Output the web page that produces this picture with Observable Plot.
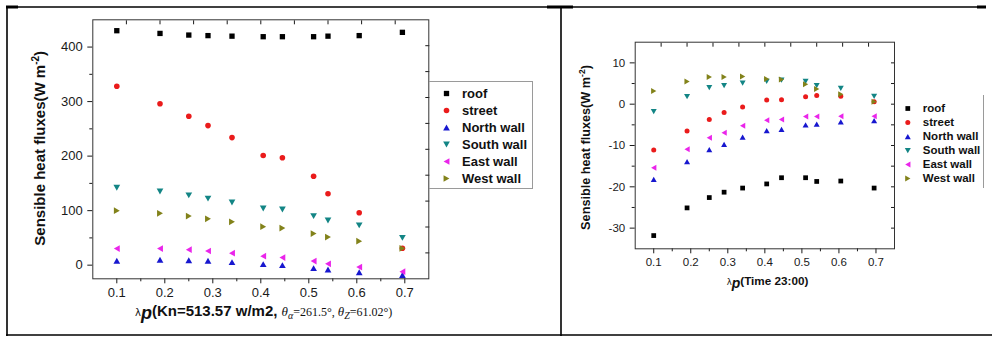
<!DOCTYPE html>
<html><head><meta charset="utf-8">
<script src="https://cdn.jsdelivr.net/npm/d3@7"></script>
<script src="https://cdn.jsdelivr.net/npm/@observablehq/plot@0.6"></script>
<style>
body{margin:0;background:#fff;}
#root{position:relative;width:992px;height:337px;overflow:hidden;background:#fff;font-family:"Liberation Sans",Arial,sans-serif;}
</style></head><body><div id="root"></div>
<script>
// ---------- data ----------
const seriesNames = ["roof", "street", "North wall", "South wall", "East wall", "West wall"];
const seriesColors = ["#000000", "#ea1b1b", "#1717cf", "#138585", "#ea25ea", "#82821a"];
const lambdaP = [0.1, 0.19, 0.25, 0.29, 0.34, 0.405, 0.445, 0.51, 0.54, 0.605, 0.695];

// left panel (Kn=513.57 w/m2)
const roofDay   = [430, 425, 422, 421, 420, 419, 419, 419, 420, 421, 427];
const streetDay = [328, 296, 273, 256, 234, 201, 197, 163, 131, 96, 31];
const northDay  = [8, 10, 9, 8, 5.5, 2, 0, -5.5, -8, -13, -18];
const southDay  = [142, 135, 128, 122, 115, 104, 102, 90, 82, 73, 50];
const eastDay   = [30.5, 30.5, 28.5, 26, 22, 16.5, 14, 7.5, 2.5, -3.5, -12];
const westDay   = [100, 95, 90, 85, 79.5, 70.5, 68, 58, 51.5, 44, 31];

// right panel (Time 23:00)
const roofNight   = [-31.8, -25.1, -22.6, -21.3, -20.3, -19.3, -17.8, -17.8, -18.7, -18.6, -20.3];
const streetNight = [-11.1, -6.5, -3.7, -2.0, -0.7, 1.0, 1.1, 1.8, 2.1, 1.9, 0.6];
const northNight  = [-18.2, -13.9, -11.0, -9.7, -8.0, -6.4, -6.1, -5.0, -4.8, -4.3, -4.0];
const southNight  = [-1.8, 1.8, 4.0, 4.5, 5.1, 5.5, 5.8, 5.5, 4.5, 3.8, 1.9];
const eastNight   = [-15.4, -10.9, -8.1, -6.9, -5.2, -3.9, -3.7, -3.0, -3.0, -2.9, -2.9];
const westNight   = [3.2, 5.5, 6.6, 6.6, 6.7, 6.1, 6.0, 4.8, 3.7, 2.4, 0.6];

// ticks
const xDomain = [0.05, 0.75];
const xTicks = [0.1, 0.2, 0.3, 0.4, 0.5, 0.6, 0.7];
const xMinorTicks = [0.15, 0.25, 0.35, 0.45, 0.55, 0.65];
const xMirrorTicks = [0.12, 0.19, 0.26, 0.33, 0.40, 0.47, 0.54, 0.61, 0.68];

const yDomainDay = [-25, 450];
const yTicksDay = [0, 100, 200, 300, 400];
const yMinorDay = [50, 150, 250, 350];
const yMirrorDay = [22.5, 70, 117.5, 165, 212.5, 260, 307.5, 355, 402.5];

const yDomainNight = [-35, 15];
const yTicksNight = [-30, -20, -10, 0, 10];
const yMinorNight = [-25, -15, -5, 5];
const yMirrorNight = [-30, -25, -20, -15, -10, -5, 0, 5, 10];

// ---------- symbols ----------
const Rr = s => Math.sqrt(s / Math.PI);
const squareSym = {draw(c, s) { const h = Rr(s) * 0.95; c.rect(-h, -h, 2 * h, 2 * h); }};
const circleSym = {draw(c, s) { const r = Rr(s); c.moveTo(r, 0); c.arc(0, 0, r, 0, 2 * Math.PI); }};
const triUp = {draw(c, s) { const r = Rr(s), w = r * 1.2, h = r * 1.05; c.moveTo(0, -h); c.lineTo(w, h); c.lineTo(-w, h); c.closePath(); }};
const triDown = {draw(c, s) { const r = Rr(s), w = r * 1.2, h = r * 1.05; c.moveTo(0, h); c.lineTo(w, -h); c.lineTo(-w, -h); c.closePath(); }};
const triLeft = {draw(c, s) { const r = Rr(s), w = r * 1.2, h = r * 1.05; c.moveTo(-h, 0); c.lineTo(h, -w); c.lineTo(h, w); c.closePath(); }};
const triRight = {draw(c, s) { const r = Rr(s), w = r * 1.2, h = r * 1.05; c.moveTo(h, 0); c.lineTo(-h, -w); c.lineTo(-h, w); c.closePath(); }};
const seriesSymbols = [squareSym, circleSym, triUp, triDown, triLeft, triRight];

function makeRows(values) {
  return seriesNames.flatMap((s, i) => lambdaP.map((x, j) => ({lambda: x, flux: values[i][j], series: s})));
}
const dayRows = makeRows([roofDay, streetDay, northDay, southDay, eastDay, westDay]);
const nightRows = makeRows([roofNight, streetNight, northNight, southNight, eastNight, westNight]);

const FONT = "'Liberation Sans', Arial, sans-serif";

function panel(o) {
  return Plot.plot({
    width: o.width, height: o.height,
    marginLeft: o.ml, marginRight: o.mr, marginTop: o.mt, marginBottom: o.mb,
    style: {fontFamily: FONT, fontSize: o.fontSize + "px", color: "#1a1a1a", background: "transparent", overflow: "visible"},
    x: {domain: xDomain},
    y: {domain: o.yDomain},
    color: {domain: seriesNames, range: seriesColors},
    symbol: {domain: seriesNames, range: seriesSymbols},
    marks: [
      Plot.axisY({ticks: o.yTicks, tickSize: 5, tickPadding: o.yPad, label: null, tickFormat: d => String(d)}),
      Plot.axisY({ticks: o.yMinor, tickSize: 3, label: null, fill: "none"}),
      Plot.axisX({ticks: xTicks, tickSize: 5, tickPadding: o.xPad, label: null, tickFormat: d => d.toFixed(1)}),
      Plot.axisX({ticks: xMinorTicks, tickSize: 3, label: null, fill: "none"}),
      Plot.axisX({anchor: "top", ticks: xMirrorTicks, tickSize: -4, label: null, fill: "none"}),
      Plot.axisY({anchor: "right", ticks: o.yMirror, tickSize: -4, label: null, fill: "none"}),
      Plot.frame({stroke: "#333"}),
      Plot.dot(o.rows, {x: "lambda", y: "flux", fill: "series", symbol: "series", r: o.r})
    ]
  });
}

function legendPlot(o) {
  return Plot.plot({
    width: o.width, height: o.height,
    marginLeft: 0, marginRight: 0, marginTop: o.mt, marginBottom: o.mb,
    style: {fontFamily: FONT, fontSize: o.fontSize + "px", fontWeight: "bold", color: "#111", background: "transparent"},
    y: {type: "point", domain: seriesNames, padding: 0, axis: null},
    color: {domain: seriesNames, range: seriesColors},
    symbol: {domain: seriesNames, range: seriesSymbols},
    marks: [
      Plot.dot(seriesNames, {y: d => d, fill: d => d, symbol: d => d, r: o.r, frameAnchor: "left", dx: o.markerX}),
      Plot.text(seriesNames, {y: d => d, text: d => d, frameAnchor: "left", dx: o.textX, textAnchor: "start", fill: "#111"})
    ]
  });
}

const root = document.getElementById("root");
function place(el, left, top) {
  el.style.position = "absolute"; el.style.left = left + "px"; el.style.top = top + "px";
  root.appendChild(el); return el;
}

place(panel({rows: dayRows, width: 440, height: 300, ml: 92.3, mr: 11.7, mt: 19.3, mb: 21.7,
  yDomain: yDomainDay, yTicks: yTicksDay, yMinor: yMinorDay, yMirror: yMirrorDay,
  fontSize: 13, yPad: 5, xPad: 4, r: 2.8}), 0, 0);

place(panel({rows: nightRows, width: 330, height: 270, ml: 54.7, mr: 16, mt: 41.7, mb: 21.7,
  yDomain: yDomainNight, yTicks: yTicksNight, yMinor: yMinorNight, yMirror: yMirrorNight,
  fontSize: 11.5, yPad: 5, xPad: 4, r: 2.5}), 580, 0);

// legends
const lw1 = document.createElement("div");
lw1.style.cssText = "width:104px;height:108px;border:1px solid #9a9a9a;border-left:none;box-sizing:border-box;";
lw1.appendChild(legendPlot({width: 103, height: 106, mt: 10.5, mb: 9.5, markerX: 17, textX: 32.5, fontSize: 13, r: 2.8}));
place(lw1, 428.5, 80.5);

const lw2 = document.createElement("div");
lw2.style.cssText = "width:89px;height:93px;border-right:1.5px solid #9a9a9a;box-sizing:border-box;";
lw2.appendChild(legendPlot({width: 87, height: 93, mt: 11.7, mb: 8, markerX: 12.3, textX: 27.3, fontSize: 11.5, r: 2.5}));
place(lw2, 895, 95);

// overlay: frame lines and axis titles
const NS = "http://www.w3.org/2000/svg";
const ov = document.createElementNS(NS, "svg");
ov.setAttribute("width", 992); ov.setAttribute("height", 337);
ov.style.cssText = "position:absolute;left:0;top:0;pointer-events:none;font-family:" + FONT;
ov.innerHTML =
  '<g stroke="#000" stroke-width="1.6">' +
  '<line x1="6" y1="7" x2="985" y2="7"/>' +
  '<line x1="6" y1="335" x2="992" y2="335"/>' +
  '<line x1="7" y1="6" x2="7" y2="336"/>' +
  '<line x1="561" y1="7" x2="561" y2="336"/>' +
  '</g>' +
  '<rect x="547" y="5.5" width="26" height="3" fill="#000"/>' +
  '<rect x="977" y="5.5" width="9" height="3" fill="#000"/>' +
  '<rect x="6" y="5.5" width="12" height="3" fill="#000"/>' +
  '<text transform="translate(45,148.3) rotate(-90)" text-anchor="middle" font-weight="bold" font-size="15" fill="#111">Sensible heat fluxes(W m<tspan dy="-6" font-size="10">-2</tspan><tspan dy="6">)</tspan></text>' +
  '<text transform="translate(589.5,147.5) rotate(-90)" text-anchor="middle" font-weight="bold" font-size="12.7" fill="#111">Sensible heat fluxes(W m<tspan dy="-5" font-size="8.5">-2</tspan><tspan dy="5">)</tspan></text>' +
  '<text x="135" y="316" fill="#111">' +
    '<tspan font-family="DejaVu Sans" font-size="10">λ</tspan>' +
    '<tspan font-style="italic" font-weight="bold" font-size="18" dy="3">p</tspan>' +
    '<tspan font-weight="bold" font-size="15" dy="-3">(Kn=513.57 w/m2, </tspan>' +
    '<tspan font-family="Liberation Serif" font-style="italic" font-size="13">θ</tspan>' +
    '<tspan font-family="Liberation Serif" font-style="italic" font-size="10" dy="3">α</tspan>' +
    '<tspan font-family="Liberation Serif" font-size="12" dy="-3">=261.5°, </tspan>' +
    '<tspan font-family="Liberation Serif" font-style="italic" font-size="13">θ</tspan>' +
    '<tspan font-family="Liberation Serif" font-style="italic" font-size="10" dy="3">Z</tspan>' +
    '<tspan font-family="Liberation Serif" font-size="12" dy="-3">=61.02°)</tspan>' +
  '</text>' +
  '<text x="726.7" y="285" fill="#111">' +
    '<tspan font-family="DejaVu Sans" font-size="8.5">λ</tspan>' +
    '<tspan font-style="italic" font-weight="bold" font-size="14" dy="2.5">p</tspan>' +
    '<tspan font-weight="bold" font-size="11.7" dy="-2.5">(Time 23:00)</tspan>' +
  '</text>';
root.appendChild(ov);
</script>
</body></html>
